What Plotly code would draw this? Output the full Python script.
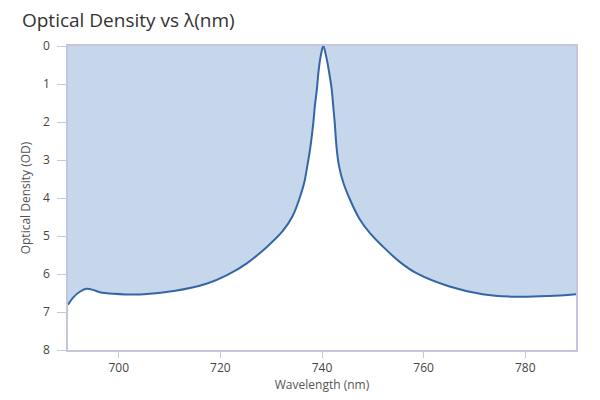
import plotly.graph_objects as go

wavelength = [690, 691, 692.4, 693.7, 695, 696.3, 699, 704.3, 710.8, 717.4, 721.3, 725.2,
              729.2, 732.2, 734.2, 735.5, 736.5, 737.1, 737.65, 738.3, 738.6, 739.0, 739.3,
              739.75, 740.25,
              740.8, 741.4, 741.9, 742.2, 742.5, 742.9, 743.35, 744.2, 745.5, 747.3, 749.4,
              752.0, 755.3, 758.6, 765.1, 771.6, 778.2, 784.7, 790]
optical_density = [6.81, 6.62, 6.46, 6.39, 6.42, 6.48, 6.52, 6.54, 6.45, 6.25, 6.03, 5.72,
                   5.28, 4.88, 4.48, 4.04, 3.60, 3.16, 2.72, 2.01, 1.57, 1.13, 0.69,
                   0.26, 0.0,
                   0.26, 0.69, 1.13, 1.57, 2.01, 2.72, 3.16, 3.60, 4.04, 4.53, 4.92,
                   5.28, 5.68, 5.98, 6.33, 6.53, 6.60, 6.58, 6.53]

x_ticks = [700, 720, 740, 760, 780]
y_ticks = [0, 1, 2, 3, 4, 5, 6, 7, 8]

axis_color = "#c4c6dc"

fig = go.Figure()
fig.add_trace(go.Scatter(
    x=wavelength, y=optical_density, mode="lines",
    line=dict(color="#3465a4", width=2, shape="spline", smoothing=1.0),
    fill="tozeroy", fillcolor="#c6d7eb", hoverinfo="skip", showlegend=False,
))

fig.update_layout(
    width=600, height=400,
    margin=dict(l=60, r=32, t=38, b=58),
    paper_bgcolor="white", plot_bgcolor="white",
    font=dict(family="Open Sans, Lato, sans-serif", color="#444", size=12),
    title=dict(text="Optical Density vs λ(nm)", x=0.0233, xanchor="left",
               y=0.968, yanchor="middle", yref="container",
               font=dict(size=19, color="#333")),
    xaxis=dict(range=[690, 790], tickvals=x_ticks, ticks="outside", ticklen=6, tickcolor=axis_color,
               showline=True, linecolor=axis_color, linewidth=1.5, mirror=True, showgrid=False,
               zeroline=False, automargin=False,
               title=dict(text="Wavelength (nm)", standoff=2, font=dict(size=12, color="#555")),
               tickfont=dict(size=12, color="#444")),
    yaxis=dict(range=[8, 0], tickvals=y_ticks, ticks="outside", ticklen=9, tickcolor=axis_color,
               showline=True, linecolor=axis_color, linewidth=1.5, mirror=True, showgrid=False,
               zeroline=False, automargin=False, ticklabelstandoff=5,
               title=dict(text="Optical Density (OD)", standoff=10, font=dict(size=12, color="#555")),
               tickfont=dict(size=12, color="#444")),
)

fig.write_html("out.html")
